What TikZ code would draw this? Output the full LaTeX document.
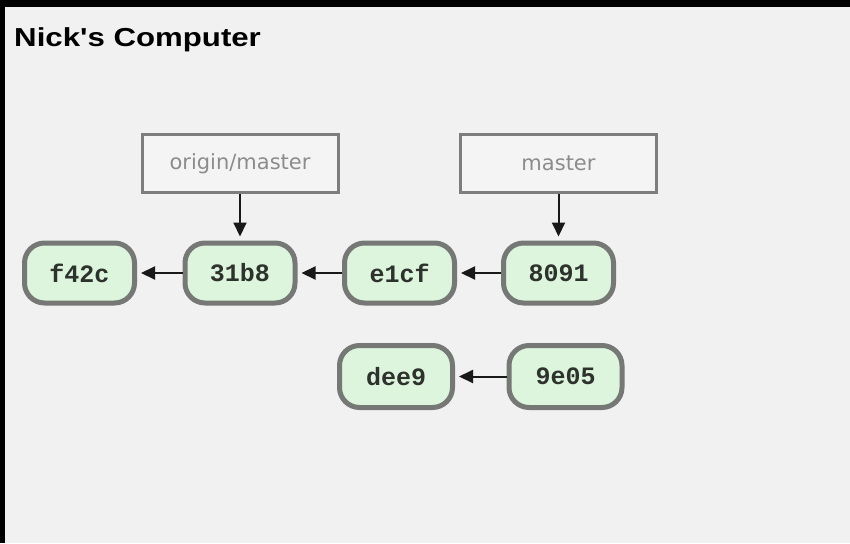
\documentclass[tikz,border=0pt]{standalone}
\usepackage{fontspec}
\setmainfont{Liberation Sans}
\newfontfamily\hashfont{Liberation Mono}
\newfontfamily\reffont{DejaVu Sans}
\usetikzlibrary{arrows.meta}
\definecolor{panelgray}{RGB}{241,241,241}
\definecolor{commitfill}{RGB}{221,244,221}
\definecolor{commitborder}{RGB}{117,120,117}
\definecolor{branchborder}{RGB}{125,125,125}
\definecolor{branchfill}{RGB}{244,244,244}
\definecolor{branchtext}{RGB}{140,140,140}
\definecolor{hashtext}{RGB}{45,50,45}
\begin{document}
\begin{tikzpicture}[x=1pt,y=-1pt,
    commit/.style={draw=commitborder, line width=5pt, fill=commitfill, rounded corners=20pt,
      minimum width=110pt, minimum height=60pt, text=hashtext,
      font=\hashfont\bfseries\fontsize{25}{25}\selectfont},
    branch/.style={draw=branchborder, line width=3pt, fill=branchfill,
      minimum width=196pt, minimum height=58pt, text=branchtext,
      font=\reffont\fontsize{21}{21}\selectfont},
    parent/.style={-{Triangle[length=14pt,width=13pt]}, line width=2pt, black!90, shorten >=4pt}]
    % panel and frame
    \fill[panelgray] (0,0) rectangle (850,543);
    \fill[black] (0,0) rectangle (850,7);
    \fill[black] (0,0) rectangle (5,543);
    \node[anchor=base west, inner sep=0pt, xscale=1.2,
      font=\bfseries\fontsize{26}{26}\selectfont] (title) at (14,47) {Nick\textquotesingle s Computer};
    % branches
    \node[branch] (originmaster) at (240,163.5) {origin/master};
    \node[branch] (master) at (558.5,163.5) {master};
    % commits
    \node[commit] (cf42c) at (79.5,273) {f42c};
    \node[commit] (c31b8) at (240,273) {31b8};
    \node[commit] (ce1cf) at (399.5,273) {e1cf};
    \node[commit] (c8091) at (558.5,273) {8091};
    \node[commit, minimum width=113pt, minimum height=62pt] (cdee9) at (396,376.5) {dee9};
    \node[commit, minimum width=113pt, minimum height=62pt] (c9e05) at (565.5,376.5) {9e05};
    % history
    \draw[parent] (c31b8) -- (cf42c);
    \draw[parent] (ce1cf) -- (c31b8);
    \draw[parent] (c8091) -- (ce1cf);
    \draw[parent] (c9e05) -- (cdee9);
    \draw[parent] (originmaster) -- (c31b8);
    \draw[parent] (master) -- (c8091);
\end{tikzpicture}
\end{document}
